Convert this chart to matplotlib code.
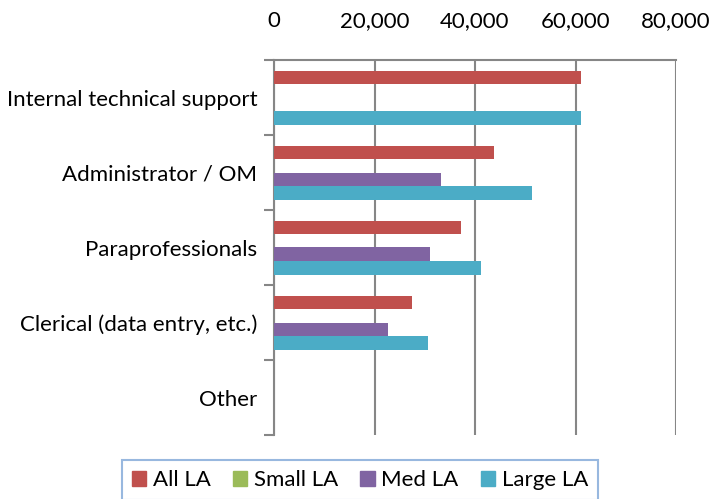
import numpy as np
import matplotlib
matplotlib.use("Agg")
import matplotlib.pyplot as plt
from matplotlib.patches import Patch
from matplotlib.ticker import FuncFormatter

plt.rcParams['font.family'] = ['Lato', 'DejaVu Sans']

categories = ['Internal technical support', 'Administrator / OM', 'Paraprofessionals',
              'Clerical (data entry, etc.)', 'Other']
series = ['All LA', 'Small LA', 'Med LA', 'Large LA']
all_la = [61100, 43700, 37300, 27500, 0]
small_la = [0, 0, 0, 0, 0]
med_la = [0, 33200, 31000, 22700, 0]
large_la = [61100, 51300, 41100, 30600, 0]
colors = ['#C0504D', '#9BBB59', '#8064A2', '#4BACC6']

fig = plt.figure(figsize=(7.12, 4.99), dpi=100)
ax = fig.add_axes([274/712, 1-435/499, (676-274)/712, (435-60)/499])

y = np.arange(len(categories))
h = 0.18
offsets = [-1.5*h, -0.5*h, 0.5*h, 1.5*h]
for vals, off, c in zip([all_la, small_la, med_la, large_la], offsets, colors):
    ax.barh(y + off, vals, height=h, color=c, zorder=3)

ax.set_ylim(len(categories)-0.5, -0.5)
ax.set_xlim(0, 80000)
ax.set_xticks([0, 20000, 40000, 60000, 80000])
ax.xaxis.set_major_formatter(FuncFormatter(lambda v, p: f'{int(v):,}'))
ax.xaxis.tick_top()
ax.tick_params(axis='x', length=0, pad=21, labelsize=16)
ax.grid(axis='x', color='#868686', linewidth=1.5, zorder=0)

ax.set_yticks(y)
ax.set_yticklabels(categories, fontsize=16)
ax.set_yticks(np.arange(len(categories)+1) - 0.5, minor=True)
ax.tick_params(axis='y', which='major', length=0, pad=12)
ax.tick_params(axis='y', which='minor', length=7, width=1.5, color='#868686')

for s in ['right', 'bottom']:
    ax.spines[s].set_visible(False)
for s in ['left', 'top']:
    ax.spines[s].set_color('#868686')
    ax.spines[s].set_linewidth(1.5)

handles = [Patch(color=c, label=s) for c, s in zip(colors, series)]
leg = fig.legend(handles=handles, loc='upper center', bbox_to_anchor=(360/712, 1-460/499),
                 ncol=4, frameon=True, fontsize=16, handlelength=0.65, handleheight=0.65,
                 handletextpad=0.3, columnspacing=1.0, borderpad=0.45, borderaxespad=0,
                 fancybox=False)
leg.get_frame().set_edgecolor('#7EA6D8')
leg.get_frame().set_linewidth(1.5)

fig.savefig('out.png', dpi=100)
